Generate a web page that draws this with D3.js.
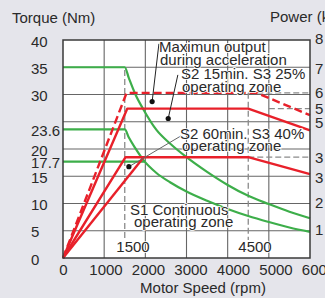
<!DOCTYPE html>
<html>
<head>
<meta charset="utf-8">
<script src="https://cdn.jsdelivr.net/npm/d3@7"></script>
<style>
  body { margin: 0; background: #e5e5eb; }
  svg { display: block; font-family: "Liberation Sans", Arial, sans-serif; }
</style>
</head>
<body>
<script>
// axis values
const speedTicks = [0, 1000, 2000, 3000, 4000, 5000, 6000];
const speedGrid = [1000, 2000, 3000, 4000, 5000];
const torqueTicks = [0, 5, 10, 15, 17.7, 20, 23.6, 30, 35, 40];
const torqueGrid = [5, 10, 15, 20, 25, 30, 35];
const powerLabels = ["8", "7", "6", "5", "5", "3", "3", "2", "1"];
const powerLevels = [40.5, 35, 30.5, 27.6, 25, 18.6, 15, 10.3, 5.4]; // torque level each label sits at

// green curves, [rpm, Nm]
const greenUpper = [[0, 35], [1500, 35], [1600, 33], [1760, 30], [1950, 27.3], [2270, 23.5], [2600, 21], [3000, 18.5], [3500, 15.8], [4000, 13.4], [4500, 11.4], [5000, 9.9], [5500, 8.5], [6000, 7.3]];
const greenLower = [[0, 23.6], [1500, 23.6], [1600, 22.1], [1760, 20.1], [1950, 18.0], [2270, 15.6], [2600, 13.9], [3000, 12.2], [3500, 10.5], [4000, 9.0], [4500, 7.7], [5000, 6.6], [5500, 5.6], [6000, 4.8]];
const greenS1 = [[0, 17.7], [1990, 17.7]];

// red curves, [rpm, Nm]
const redPeak = [[0, 0], [1545, 30.3], [4700, 30.3], [6000, 26.2]];
const redS2_15 = [[0, 0], [1560, 27.4], [4500, 27.4], [6000, 23.4]];
const redS2_60 = [[0, 0], [1520, 18.5], [4500, 18.5], [6000, 15.4]];
const redS1Edge = [[0, 0], [1960, 18.5]];

// reference (gray dashed) lines
const refVertical = [[[1500, 34.5], [1500, 3.3]], [[4500, 30.3], [4500, 3.3]]];
const refHorizontal = [[[4500, 30.3], [6000, 30.3]], [[5000, 27.4], [6000, 27.4]], [[4500, 18.5], [6000, 18.5]]];

// callout dots and their leader lines
const markers = [[2165, 28.7], [2556, 25.6], [1600, 16.75]];
const leaders = [[[2165, 28.7], [2330, 39.3]], [[2556, 25.6], [2790, 33.6]], [[1600, 16.75], [2865, 22.4]]];

function init() {
  const W = 325, H = 298;
  const left = 63, right = 310, top = 40, bottom = 258;

  const svg = d3.select("body").append("svg")
    .attr("width", W)
    .attr("height", H)
  ;

  const x = d3.scaleLinear().domain([0, 6000]).range([left, right]);
  const y = d3.scaleLinear().domain([0, 40]).range([bottom, top]);
  // tick labels in the original sit a bit wider than the grid
  const xLab = d3.scaleLinear().domain([0, 6000]).range([63, 318]);

  const line = d3.line().x(d => x(d[0])).y(d => y(d[1]));
  const smooth = d3.line().x(d => x(d[0])).y(d => y(d[1])).curve(d3.curveMonotoneX);

  svg.append("rect")
    .attr("x", left).attr("y", top)
    .attr("width", right - left).attr("height", bottom - top)
    .attr("fill", "#fff")
  ;

  // grid
  svg.append("g").selectAll("line").data(speedGrid).join("line")
    .attr("x1", d => x(d)).attr("x2", d => x(d))
    .attr("y1", top).attr("y2", bottom)
    .attr("stroke", "#666").attr("stroke-width", 1.1)
  ;
  svg.append("g").selectAll("line").data(torqueGrid).join("line")
    .attr("x1", left).attr("x2", right)
    .attr("y1", d => y(d)).attr("y2", d => y(d))
    .attr("stroke", "#666").attr("stroke-width", 1.1)
  ;

  // gray dashed reference lines
  svg.append("g").selectAll("path").data(refVertical.concat(refHorizontal)).join("path")
    .attr("d", line)
    .attr("fill", "none")
    .attr("stroke", "#8a8a8a")
    .attr("stroke-width", 1.3)
    .attr("stroke-dasharray", "6,3")
  ;

  // green curves
  svg.append("g").selectAll("path").data([greenUpper, greenLower, greenS1]).join("path")
    .attr("d", smooth)
    .attr("fill", "none")
    .attr("stroke", "#3dae4a")
    .attr("stroke-width", 2.2)
  ;

  // red curves
  svg.append("g").selectAll("path").data([redS2_15, redS2_60, redS1Edge]).join("path")
    .attr("d", line)
    .attr("fill", "none")
    .attr("stroke", "#e8202a")
    .attr("stroke-width", 2.4)
    .attr("stroke-linejoin", "round")
  ;
  svg.append("path")
    .attr("d", line(redPeak))
    .attr("fill", "none")
    .attr("stroke", "#e8202a")
    .attr("stroke-width", 2.4)
    .attr("stroke-dasharray", "8,4")
    .attr("stroke-linejoin", "round")
  ;

  // leaders and dots
  svg.append("g").selectAll("path").data(leaders).join("path")
    .attr("d", line)
    .attr("stroke", (d, i) => i == 2 ? "#666" : "#222")
    .attr("stroke-width", 1)
  ;
  svg.append("g").selectAll("circle").data(markers).join("circle")
    .attr("cx", d => x(d[0])).attr("cy", d => y(d[1]))
    .attr("r", 2.6)
    .attr("fill", "#111")
  ;

  // annotation text, thin white halo
  const notes = [
    { x: 159, y: 52, t: "Maximun output" },
    { x: 160, y: 65, t: "during acceleration" },
    { x: 181, y: 79, t: "S2 15min. S3 25%" },
    { x: 182, y: 92, t: "operating zone" },
    { x: 180, y: 138.5, t: "S2 60min. S3 40%" },
    { x: 182, y: 150.5, t: "operating zone" },
    { x: 130, y: 215, t: "S1 Continuous" },
    { x: 134, y: 227, t: "operating zone" },
    { x: 133, y: 252, t: "1500", a: "middle" },
    { x: 255, y: 252, t: "4500", a: "middle" }
  ];
  svg.append("g").selectAll("text").data(notes).join("text")
    .attr("x", d => d.x).attr("y", d => d.y)
    .attr("text-anchor", d => d.a || "start")
    .attr("font-size", 15)
    .attr("fill", "#2a2a2a")
    .attr("stroke", "#fff").attr("stroke-width", 1.6)
    .attr("paint-order", "stroke")
    .text(d => d.t)
  ;

  // frame
  svg.append("rect")
    .attr("x", left).attr("y", top)
    .attr("width", right - left).attr("height", bottom - top)
    .attr("fill", "none")
    .attr("stroke", "#3a3a3a").attr("stroke-width", 1.5)
  ;

  // left axis, labels left aligned
  const yAxis = svg.append("g")
    .attr("transform", "translate(" + left + ",0)")
    .call(d3.axisLeft(y).tickValues(torqueTicks).tickSize(0).tickFormat(d3.format("")))
  ;
  yAxis.select(".domain").remove();
  yAxis.selectAll("text")
    .attr("x", 31 - left)
    .attr("dy", "0.4em")
    .attr("text-anchor", "start")
    .attr("font-size", 15)
    .attr("font-family", null)
    .attr("fill", "#2a2a2a")
  ;

  // right axis (power)
  const pAxis = svg.append("g")
    .attr("transform", "translate(" + right + ",0)")
    .call(d3.axisRight(y).tickValues(powerLevels).tickSize(0).tickFormat((d, i) => powerLabels[i]))
  ;
  pAxis.select(".domain").remove();
  pAxis.selectAll("text")
    .attr("x", 5)
    .attr("dy", "0.4em")
    .attr("font-size", 15)
    .attr("font-family", null)
    .attr("fill", "#2a2a2a")
  ;

  // bottom axis
  const xAxis = svg.append("g")
    .attr("transform", "translate(0," + bottom + ")")
    .call(d3.axisBottom(xLab).tickValues(speedTicks).tickSize(0).tickFormat(d3.format("")))
  ;
  xAxis.select(".domain").remove();
  xAxis.selectAll("text")
    .attr("y", 6)
    .attr("font-size", 15)
    .attr("font-family", null)
    .attr("fill", "#2a2a2a")
  ;

  // titles
  svg.append("text").attr("x", 12).attr("y", 23)
    .attr("font-size", 15).attr("fill", "#2a2a2a")
    .text("Torque (Nm)");
  svg.append("text").attr("x", 270).attr("y", 22)
    .attr("font-size", 15).attr("fill", "#2a2a2a")
    .text("Power (kW)");
  svg.append("text").attr("x", 203).attr("y", 293)
    .attr("text-anchor", "middle")
    .attr("font-size", 15).attr("fill", "#2a2a2a")
    .text("Motor Speed (rpm)");
}

init();
</script>
</body>
</html>
